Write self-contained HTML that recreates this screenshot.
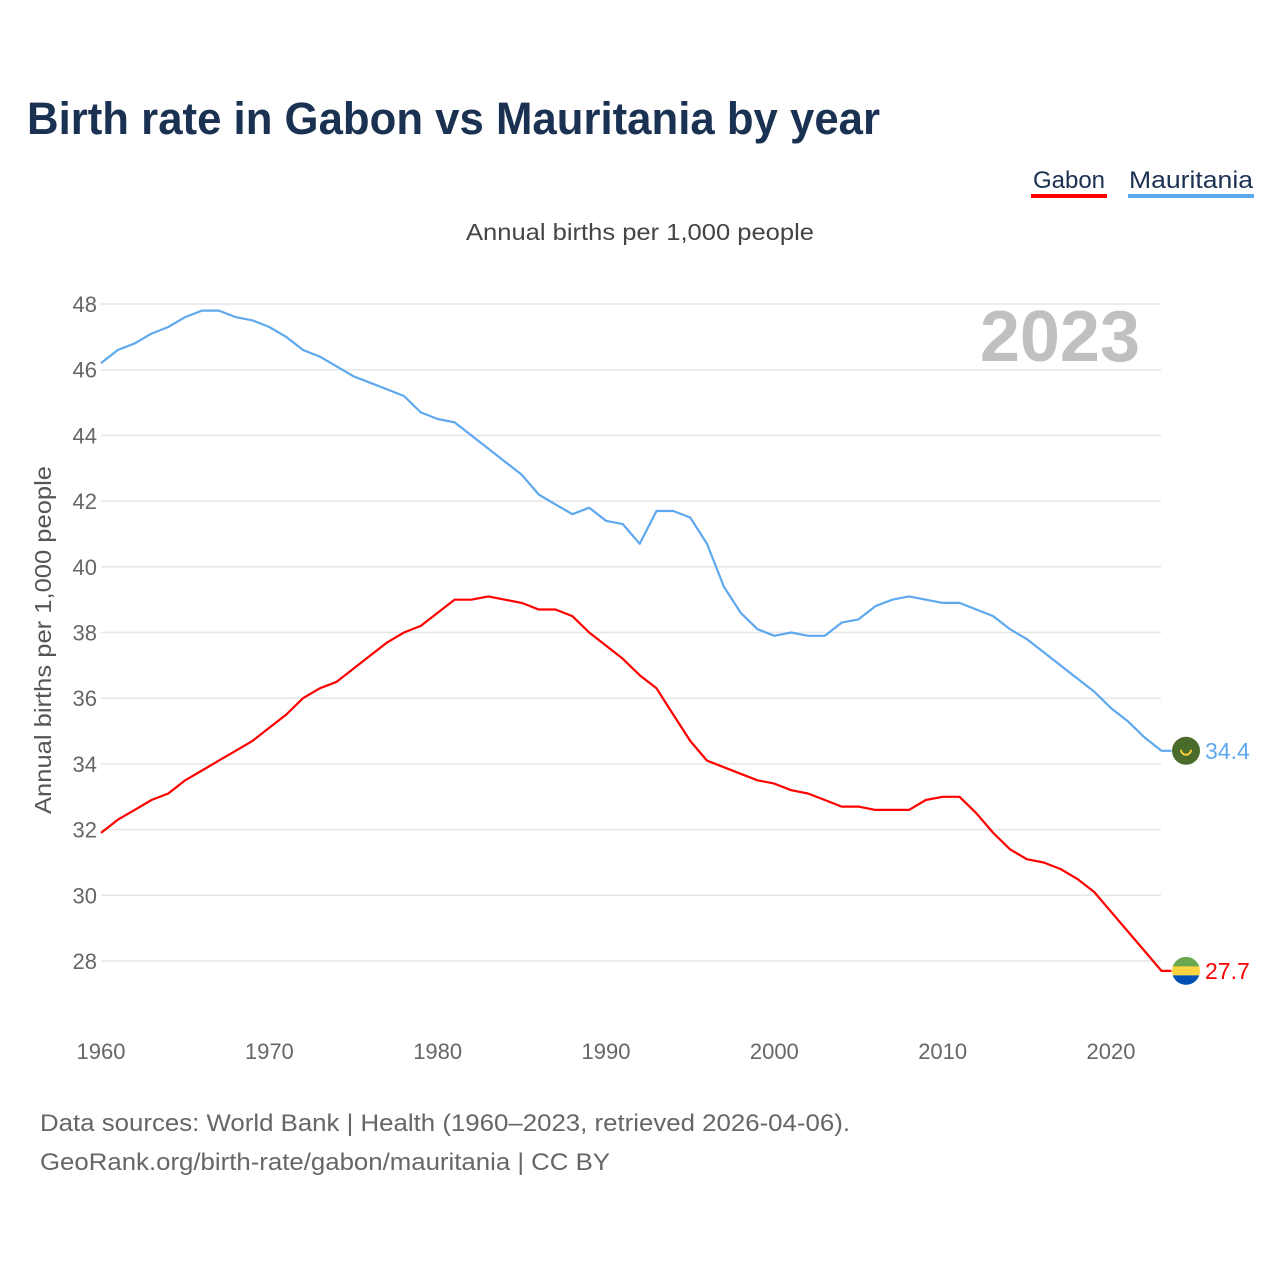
<!DOCTYPE html>
<html><head><meta charset="utf-8"><style>
body{margin:0;background:#fff;font-family:"Liberation Sans",sans-serif;}
#wrap{position:relative;width:1280px;height:1280px;overflow:hidden;}
</style></head><body>
<div id="wrap">
<svg id="chart" width="1280" height="1280" style="position:absolute;left:0;top:0">
<text x="27" y="134" font-size="45" font-weight="bold" fill="#1a3152" textLength="853" lengthAdjust="spacingAndGlyphs">Birth rate in Gabon vs Mauritania by year</text>
<g><text x="1069" y="188" font-size="24" fill="#1a3152" text-anchor="middle">Gabon</text><rect x="1031" y="194" width="76" height="4" fill="#ff0000"/></g>
<g><text x="1191" y="188" font-size="24" fill="#1a3152" text-anchor="middle" textLength="124" lengthAdjust="spacingAndGlyphs">Mauritania</text><rect x="1128" y="194" width="126" height="4" fill="#5ea8ee"/></g>
<text x="640" y="240" font-size="23" fill="#444" text-anchor="middle" textLength="348" lengthAdjust="spacingAndGlyphs">Annual births per 1,000 people</text>
<text x="1140" y="361" font-size="72" font-weight="bold" fill="#c0c0c0" text-anchor="end">2023</text>
<text transform="translate(51,640) rotate(-90)" font-size="23" fill="#555" text-anchor="middle" textLength="348" lengthAdjust="spacingAndGlyphs">Annual births per 1,000 people</text>
<g id="grid"></g><g id="yt"></g><g id="xt"></g><g id="lines"></g><g id="ends"></g>
<text x="40" y="1131" font-size="24" fill="#666" textLength="810" lengthAdjust="spacingAndGlyphs">Data sources: World Bank | Health (1960–2023, retrieved 2026-04-06).</text>
<text x="40" y="1170" font-size="24" fill="#666" textLength="570" lengthAdjust="spacingAndGlyphs">GeoRank.org/birth-rate/gabon/mauritania | CC BY</text>
</svg></div>
<script>
const years=[];for(let y=1960;y<=2023;y++)years.push(y);
const gabon=[31.9,32.3,32.6,32.9,33.1,33.5,33.8,34.1,34.4,34.7,35.1,35.5,36.0,36.3,36.5,36.9,37.3,37.7,38.0,38.2,38.6,39.0,39.0,39.1,39.0,38.9,38.7,38.7,38.5,38.0,37.6,37.2,36.7,36.3,35.5,34.7,34.1,33.9,33.7,33.5,33.4,33.2,33.1,32.9,32.7,32.7,32.6,32.6,32.6,32.9,33.0,33.0,32.5,31.9,31.4,31.1,31.0,30.8,30.5,30.1,29.5,28.9,28.3,27.7];
const mauritania=[46.2,46.6,46.8,47.1,47.3,47.6,47.8,47.8,47.6,47.5,47.3,47.0,46.6,46.4,46.1,45.8,45.6,45.4,45.2,44.7,44.5,44.4,44.0,43.6,43.2,42.8,42.2,41.9,41.6,41.8,41.4,41.3,40.7,41.7,41.7,41.5,40.7,39.4,38.6,38.1,37.9,38.0,37.9,37.9,38.3,38.4,38.8,39.0,39.1,39.0,38.9,38.9,38.7,38.5,38.1,37.8,37.4,37.0,36.6,36.2,35.7,35.3,34.8,34.4];
const yTicks=[28,30,32,34,36,38,40,42,44,46,48];
const xTicks=[1960,1970,1980,1990,2000,2010,2020];
const NS="http://www.w3.org/2000/svg";
const xs=v=>101+(v-1960)*(1010/60);
const ys=v=>304+(48-v)*(657/20);
function mk(t,a,p){const e=document.createElementNS(NS,t);for(const k in a)e.setAttribute(k,a[k]);p.appendChild(e);return e;}
const grid=document.getElementById('grid'),yt=document.getElementById('yt'),xt=document.getElementById('xt');
yTicks.forEach(v=>{
 const l=mk('line',{x1:101,x2:1161,y1:ys(v),y2:ys(v),stroke:'#e6e6e6','stroke-width':1.5},grid);
 
 
 const t=mk('text',{x:97,y:ys(v)+8,'font-size':22,fill:'#666','text-anchor':'end'},yt);t.textContent=v;
 
 
});
xTicks.forEach(v=>{
 const t=mk('text',{x:xs(v),y:1059,'font-size':22,fill:'#666','text-anchor':'middle'},xt);t.textContent=v;
 
 
});
const lines=document.getElementById('lines');
function series(d,c,name){
 let p=d.map((v,i)=>(i?'L':'M')+xs(years[i]).toFixed(1)+','+ys(v).toFixed(1)).join(' ');
 p+=' L'+(xs(2023)+10)+','+ys(d[d.length-1]).toFixed(1);
 const e=mk('path',{d:p,fill:'none',stroke:c,'stroke-width':2.2,'stroke-linejoin':'round'},lines);
 
 
}
series(mauritania,'#5ea8ee','line-mauritania');
series(gabon,'#ff0000','line-gabon');
const ends=document.getElementById('ends');
const my=ys(mauritania[63]),gy=ys(gabon[63]);
const mf=mk('g',{},ends);


mk('circle',{cx:1186,cy:my,r:14,fill:'#4a6b2c'},mf);
mk('path',{d:`M1181,${my-1} A5,5 0 0 0 1191,${my-1}`,fill:'none',stroke:'#f5d033','stroke-width':2},mf);
const defs=mk('defs',{},ends);const cp=mk('clipPath',{id:'gc'},defs);mk('circle',{cx:1186,cy:gy,r:14},cp);
const gf=mk('g',{'clip-path':'url(#gc)'},ends);


mk('rect',{x:1172,y:gy-14,width:28,height:10,fill:'#6aa84f'},gf);
mk('rect',{x:1172,y:gy-4.5,width:28,height:9,fill:'#fcd440'},gf);
mk('rect',{x:1172,y:gy+4.5,width:28,height:10,fill:'#0050b5'},gf);
const mt=mk('text',{x:1205,y:my+8,'font-size':23,fill:'#5ea8ee'},ends);mt.textContent=mauritania[63].toFixed(1);


const gt=mk('text',{x:1205,y:gy+8,'font-size':23,fill:'#ff0000'},ends);gt.textContent=gabon[63].toFixed(1);


</script>
</body></html>
